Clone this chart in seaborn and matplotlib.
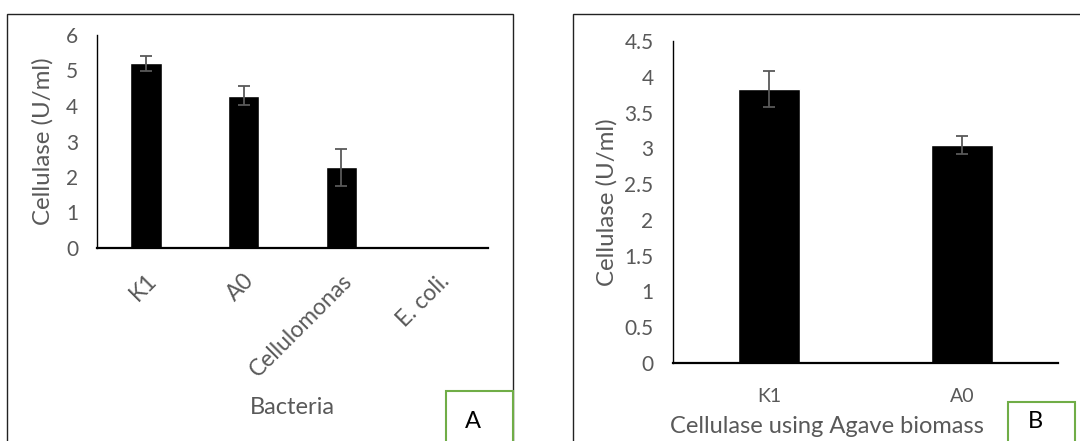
import pandas as pd
import matplotlib.pyplot as plt
import seaborn as sns
from matplotlib.patches import Rectangle

# panel A: cellulase by bacteria
bacteria = ['K1', 'A0', 'Cellulomonas', 'E. coli.']
activity_a = [5.20, 4.29, 2.27, 0.01]
err_a = [0.22, 0.26, 0.52, 0.0]

# panel B: cellulase using Agave biomass
strains = ['K1', 'A0']
activity_b = [3.83, 3.05]
err_b = [0.25, 0.125]

sns.set_style('white')
plt.rcParams['font.family'] = ['Lato', 'DejaVu Sans']
grey = '#595959'

fig = plt.figure(figsize=(10.8, 4.41), dpi=100)

# outer frames of the two panels
fig.patches.append(Rectangle((7 / 1080, -0.1), 506 / 1080, 1.1 - 14 / 441,
                             transform=fig.transFigure, fill=False,
                             edgecolor='#222222', linewidth=1.0))
fig.patches.append(Rectangle((573 / 1080, -0.1), 520 / 1080, 1.1 - 14 / 441,
                             transform=fig.transFigure, fill=False,
                             edgecolor='#222222', linewidth=1.0))


def style(ax):
    sns.despine(ax=ax)
    ax.spines['left'].set_linewidth(1.0)
    ax.spines['bottom'].set_linewidth(1.6)
    ax.spines['left'].set_color('black')
    ax.spines['bottom'].set_color('black')
    ax.tick_params(length=0, colors=grey)
    ax.set_facecolor('none')


# ---- panel A ----
df_a = pd.DataFrame({'bacteria': bacteria, 'activity': activity_a})
ax1 = fig.add_axes([97 / 1080, 1 - 248 / 441, 391 / 1080, 213 / 441])
sns.barplot(data=df_a, x='bacteria', y='activity', color='black',
            width=0.32, ax=ax1, saturation=1)
ax1.errorbar(range(len(bacteria)), activity_a, yerr=err_a, fmt='none',
             ecolor=grey, elinewidth=1.3, capsize=4.3, capthick=1.3)
ax1.set_ylim(0, 6)
ax1.set_xlim(-0.5, len(bacteria) - 0.5)
ax1.set_yticks(range(0, 7))
style(ax1)
ax1.tick_params(axis='y', labelsize=15, pad=13.5)
ax1.tick_params(axis='x', labelsize=16.5, pad=16)
for lab in ax1.get_xticklabels():
    lab.set_rotation(45)
    lab.set_ha('right')
    lab.set_rotation_mode('anchor')
ax1.set_xlabel('Bacteria', fontsize=17, color=grey)
ax1.xaxis.set_label_coords(0.5, -0.70)
ax1.set_ylabel('Cellulase (U/ml)', fontsize=17.3, color=grey, labelpad=9)

# ---- panel B ----
df_b = pd.DataFrame({'strain': strains, 'activity': activity_b})
ax2 = fig.add_axes([673 / 1080, 1 - 363 / 441, 385 / 1080, 322 / 441])
sns.barplot(data=df_b, x='strain', y='activity', color='black',
            width=0.32, ax=ax2, saturation=1)
ax2.errorbar(range(len(strains)), activity_b, yerr=err_b, fmt='none',
             ecolor=grey, elinewidth=1.3, capsize=4.3, capthick=1.3)
ax2.set_ylim(0, 4.5)
ax2.set_xlim(-0.5, len(strains) - 0.5)
ax2.set_yticks([0, 0.5, 1, 1.5, 2, 2.5, 3, 3.5, 4, 4.5])
ax2.set_yticklabels(['0', '0.5', '1', '1.5', '2', '2.5', '3', '3.5', '4', '4.5'])
style(ax2)
ax2.tick_params(axis='y', labelsize=15, pad=14)
ax2.tick_params(axis='x', labelsize=14, pad=18)
ax2.set_xlabel('Cellulase using Agave biomass', fontsize=17, color=grey)
ax2.xaxis.set_label_coords(0.40, -0.165)
ax2.set_ylabel('Cellulase (U/ml)', fontsize=17.3, color=grey, labelpad=5)

# panel letters in green boxes
for x0, y0, letter in [(446, 391, 'A'), (1008, 402, 'B')]:
    fig.patches.append(Rectangle((x0 / 1080, -0.1), 67 / 1080, 0.1 + 1 - y0 / 441,
                                 transform=fig.transFigure, fill=False,
                                 edgecolor='#70AD47', linewidth=1.5))
    fig.text((x0 + 27) / 1080, 1 - 421 / 441, letter, fontsize=17,
             color='black', ha='center', va='center')

fig.savefig('out.png', dpi=100)
